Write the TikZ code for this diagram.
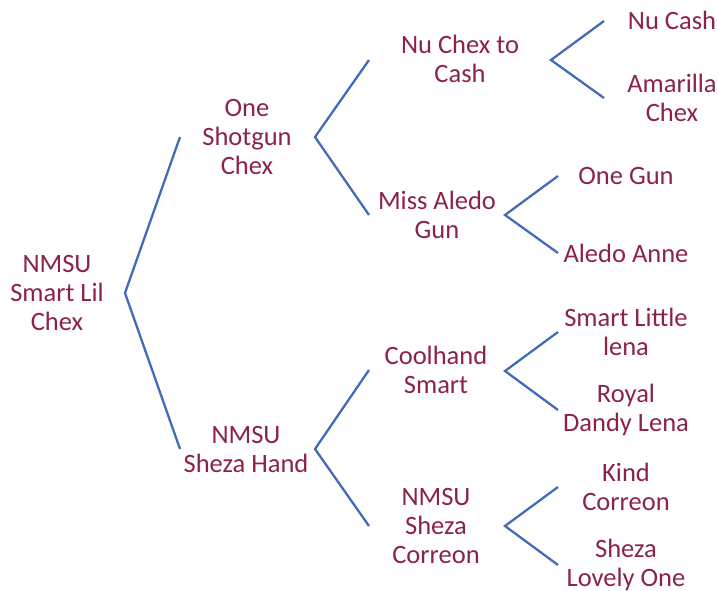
\documentclass[tikz,border=0pt]{standalone}
\usepackage{fontspec}
\setmainfont{Carlito}
\definecolor{txt}{RGB}{140,35,70}
\definecolor{ln}{RGB}{66,108,186}
\begin{document}
\begin{tikzpicture}[x=1pt,y=-1pt,
  lbl/.style={align=center,inner sep=0pt,text=txt,font=\fontsize{26.5}{29}\selectfont},
  br/.style={draw=ln,line width=2.3pt,line join=miter}]
\useasboundingbox (0,0) rectangle (718,591);
% nodes
\node[lbl] (root) at (57,293) {NMSU\\Smart Lil\\Chex};
\node[lbl] (osc) at (247,137) {One\\Shotgun\\Chex};
\node[lbl] (nsh) at (246,449) {NMSU\\Sheza Hand};
\node[lbl] (nct) at (460,59) {Nu Chex to\\Cash};
\node[lbl] (mag) at (437,215) {Miss Aledo\\Gun};
\node[lbl] (cs) at (436,370) {Coolhand\\Smart};
\node[lbl] (nsc) at (436,526) {NMSU\\Sheza\\Correon};
\node[lbl] (nc) at (672,20) {Nu Cash};
\node[lbl] (ac) at (672,98) {Amarilla\\Chex};
\node[lbl] (og) at (626,176) {One Gun};
\node[lbl] (aa) at (626,253) {Aledo Anne};
\node[lbl] (sll) at (626,332) {Smart Little\\lena};
\node[lbl] (rdl) at (626,410) {Royal\\Dandy Lena};
\node[lbl] (kc) at (626,487) {Kind\\Correon};
\node[lbl] (slo) at (626,565) {Sheza\\Lovely One};
% bracket coordinates
\coordinate (root-a) at (125,293);
\coordinate (osc-e) at (180,137);
\coordinate (nsh-e) at (180,449);
\coordinate (osc-a) at (315,137);
\coordinate (nct-e) at (369,60);
\coordinate (mag-e) at (369,215);
\coordinate (nsh-a) at (315,449);
\coordinate (cs-e) at (369,370);
\coordinate (nsc-e) at (369,526);
\coordinate (nct-a) at (551,60);
\coordinate (nc-e) at (604,21);
\coordinate (ac-e) at (604,98);
\coordinate (mag-a) at (505,215);
\coordinate (og-e) at (558,176);
\coordinate (aa-e) at (558,253);
\coordinate (cs-a) at (505,371);
\coordinate (sll-e) at (558,332);
\coordinate (rdl-e) at (558,410);
\coordinate (nsc-a) at (505,526);
\coordinate (kc-e) at (558,487);
\coordinate (slo-e) at (558,565);
% connectors
\draw[br] (osc-e) -- (root-a) -- (nsh-e);
\draw[br] (nct-e) -- (osc-a) -- (mag-e);
\draw[br] (cs-e) -- (nsh-a) -- (nsc-e);
\draw[br] (nc-e) -- (nct-a) -- (ac-e);
\draw[br] (og-e) -- (mag-a) -- (aa-e);
\draw[br] (sll-e) -- (cs-a) -- (rdl-e);
\draw[br] (kc-e) -- (nsc-a) -- (slo-e);
\end{tikzpicture}
\end{document}
